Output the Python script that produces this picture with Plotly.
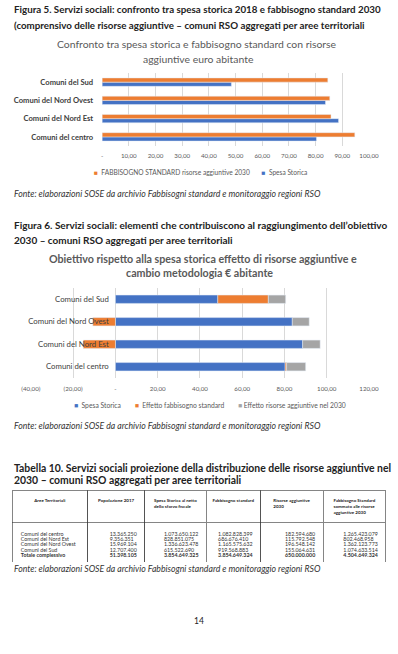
import plotly.graph_objects as go

W, H = 398, 654
def px(x): return x / W
def py(y): return 1 - y / H

# ---------------- data ----------------
areas = ["Comuni del centro", "Comuni del Nord Est", "Comuni del Nord Ovest", "Comuni del Sud"]

# Figura 5 (euro per abitante)
fs_risorse_2030 = [94.68, 85.77, 85.30, 84.57]
spesa_storica = [80.33, 88.59, 83.70, 48.44]

# Figura 6 (euro per abitante)
f6_spesa = [80.33, 88.59, 83.70, 48.44]
f6_eff_fs = [0.69, -15.20, -10.70, 23.92]
f6_eff_ris = [9.0, 8.3, 8.0, 8.2]

x1_ticks = [0, 10, 20, 30, 40, 50, 60, 70, 80, 90, 100]
x1_labels = ["-", "10,00", "20,00", "30,00", "40,00", "50,00", "60,00", "70,00", "80,00", "90,00", "100,00"]
x2_ticks = [-40, -20, 0, 20, 40, 60, 80, 100, 120]
x2_labels = ["(40,00)", "(20,00)", "-", "20,00", "40,00", "60,00", "80,00", "100,00", "120,00"]

# Tabella 10
tab_header = ["Aree Territoriali", "Popolazione 2017", "Spesa Storica al netto<br>dello sforzo fiscale",
              "Fabbisogno standard", "Risorse aggiuntive<br>2030",
              "Fabbisogno Standard<br>sommato alle risorse<br>aggiuntive 2030"]
tab_area = ["Comuni del centro", "Comuni del Nord Est", "Comuni del Nord Ovest", "Comuni del Sud", "Totale complessivo"]
tab_pop = ["13.365.250", "9.356.351", "15.969.104", "12.707.400", "51.398.105"]
tab_spesa = ["1.073.650.122", "828.851.075", "1.336.623.478", "615.522.690", "3.854.649.325"]
tab_fs = ["1.082.828.399", "686.676.410", "1.165.575.632", "919.568.883", "3.854.649.324"]
tab_ris = ["182.594.680", "115.792.548", "196.548.142", "155.064.631", "650.000.000"]
tab_tot = ["1.265.423.079", "802.468.958", "1.362.123.773", "1.074.633.514", "4.504.649.324"]

ORANGE = "#ED7D31"
BLUE = "#4472C4"
GREY = "#A5A5A5"
TXT = "#595959"
FONT = "Lato"

fig = go.Figure()

# ---------------- Figura 5 ----------------
fig.add_trace(go.Bar(y=areas, x=spesa_storica, orientation="h", marker_color=BLUE,
                     name="Spesa Storica", xaxis="x", yaxis="y", offsetgroup="a"))
fig.add_trace(go.Bar(y=areas, x=fs_risorse_2030, orientation="h", marker_color=ORANGE,
                     name="FABBISOGNO STANDARD risorse aggiuntive 2030", xaxis="x", yaxis="y",
                     offsetgroup="b"))

# ---------------- Figura 6 ----------------
fig.add_trace(go.Bar(y=areas, x=f6_spesa, orientation="h", marker_color=BLUE, name="Spesa Storica",
                     xaxis="x2", yaxis="y2", width=0.37, offsetgroup="c"))
fig.add_trace(go.Bar(y=areas, x=f6_eff_fs, orientation="h", marker_color=ORANGE,
                     name="Effetto fabbisogno standard", xaxis="x2", yaxis="y2", width=0.37,
                     offsetgroup="c"))
fig.add_trace(go.Bar(y=areas, x=f6_eff_ris, orientation="h", marker_color=GREY,
                     name="Effetto risorse aggiuntive nel 2030", xaxis="x2", yaxis="y2", width=0.37,
                     offsetgroup="c"))

# ---------------- Tabella 10 ----------------
BODY_FS = 5.3
def span(v, b=False):
    s = "<span style='font-size:%spx'>%s</span>" % (BODY_FS, v)
    return "<b>" + s + "</b>" if b else s
def body(col):
    return ["<br>".join([span(v) for v in col[:-1]] + [span(col[-1], True)])]
def head(h):
    return "<br>".join("<b>" + ln.replace(" ", "\u00a0") + "</b>" for ln in h.split("<br>"))

fig.add_trace(go.Table(
    domain=dict(x=[px(3), px(396)], y=[py(562), py(490)]),
    columnwidth=[79, 60, 65, 57, 66, 66],
    header=dict(values=[head(h) for h in tab_header], align="center", height=22,
                font=dict(family=FONT, size=4.5, color="#222"),
                line=dict(color="#333", width=0.6), fill_color="white"),
    cells=dict(values=[body(c) for c in [tab_area, tab_pop, tab_spesa, tab_fs, tab_ris, tab_tot]],
               align=["left", "right", "right", "right", "right", "right"], height=30,
               font=dict(family=FONT, size=4.15, color="#333"),
               line=dict(color="#333", width=0.6), fill_color="white"),
))

fig.update_layout(
    width=W, height=H, autosize=False, margin=dict(l=0, r=0, t=0, b=0),
    paper_bgcolor="white", plot_bgcolor="white",
    barmode="relative", bargap=0.54, bargroupgap=0, showlegend=False,
    font=dict(family=FONT, color=TXT),
    xaxis=dict(domain=[px(97), px(378)], range=[0, 100], tickvals=x1_ticks, ticktext=x1_labels,
               showgrid=True, gridcolor="#D9D9D9", gridwidth=1, zeroline=False, showline=False,
               tickfont=dict(size=6.2, color=TXT), anchor="y", ticklabelstandoff=5),
    yaxis=dict(domain=[py(146), py(73)], categoryorder="array", categoryarray=areas,
               showgrid=False, zeroline=False, showline=False, anchor="x",
               tickfont=dict(size=7.6, color="#404040", weight="bold"), ticklabelstandoff=8),
    xaxis2=dict(domain=[px(22), px(378)], range=[-40, 120], tickvals=x2_ticks, ticktext=x2_labels,
                showgrid=True, gridcolor="#D9D9D9", gridwidth=1, zeroline=False, showline=False,
                tickfont=dict(size=6.2, color=TXT), anchor="y2", ticklabelstandoff=6),
    yaxis2=dict(domain=[py(378), py(288)], categoryorder="array", categoryarray=areas,
                showgrid=False, zeroline=False, showline=False, anchor="free", position=px(104),
                tickfont=dict(size=7.8, color="#404040")),
)

def note(text, x, y, size, color="#222", xanchor="left", bold_=False, italic=False):
    fig.add_annotation(text=text, x=px(x), y=py(y), xref="paper", yref="paper", xanchor=xanchor,
                       yanchor="middle", showarrow=False,
                       font=dict(family=FONT, size=size, color=color,
                                 weight="bold" if bold_ else "normal",
                                 style="italic" if italic else "normal"))

def sq(color):
    return "<span style='color:%s'>■</span>" % color

# legends
note(sq(ORANGE) + "&nbsp;&nbsp;FABBISOGNO STANDARD risorse aggiuntive 2030" + "&nbsp;" * 7 + sq(BLUE) +
     "&nbsp;&nbsp;Spesa Storica", 86, 172, 6.6, TXT, "left")
note(sq(BLUE) + "&nbsp;&nbsp;Spesa Storica" + "&nbsp;" * 8 + sq(ORANGE) + "&nbsp;&nbsp;Effetto fabbisogno standard" +
     "&nbsp;" * 8 + sq(GREY) + "&nbsp;Effetto risorse aggiuntive nel 2030", 65, 405, 6.75, TXT, "left")

FONTE = "Fonte: elaborazioni SOSE da archivio Fabbisogni standard e monitoraggio regioni RSO"
note("Figura 5. Servizi sociali: confronto tra spesa storica 2018 e fabbisogno standard 2030", 2, 9, 9.75, bold_=True)
note("(comprensivo delle risorse aggiuntive – comuni RSO aggregati per aree territoriali", 2, 25, 9.75, bold_=True)
note("Confronto tra spesa storica e fabbisogno standard con risorse", 197, 44, 10.4, TXT, "center")
note("aggiuntive euro abitante", 198, 59, 10.4, TXT, "center")
note(FONTE, 2, 194, 8.7, "#333", italic=True)

note("Figura 6. Servizi sociali: elementi che contribuiscono al raggiungimento dell’obiettivo", 2, 225, 10.0, bold_=True)
note("2030 – comuni RSO aggregati per aree territoriali", 2, 240, 10.0, bold_=True)
note("Obiettivo rispetto alla spesa storica effetto di risorse aggiuntive e", 203, 258, 10.7, TXT, "center", bold_=True)
note("cambio metodologia € abitante", 200, 272, 10.7, TXT, "center", bold_=True)
note(FONTE, 2, 425, 8.7, "#333", italic=True)

note("Tabella 10. Servizi sociali proiezione della distribuzione delle risorse aggiuntive nel", 2, 468, 10.4, bold_=True)
note("2030 – comuni RSO aggregati per aree territoriali", 2, 480, 10.4, bold_=True)
note(FONTE, 2, 568, 8.7, "#333", italic=True)
note("14", 199, 621, 8.5, "#222", "center")

fig.write_html("out.html", config={"displayModeBar": False},
               post_script="document.body.style.margin='0';document.body.style.overflow='hidden';")
